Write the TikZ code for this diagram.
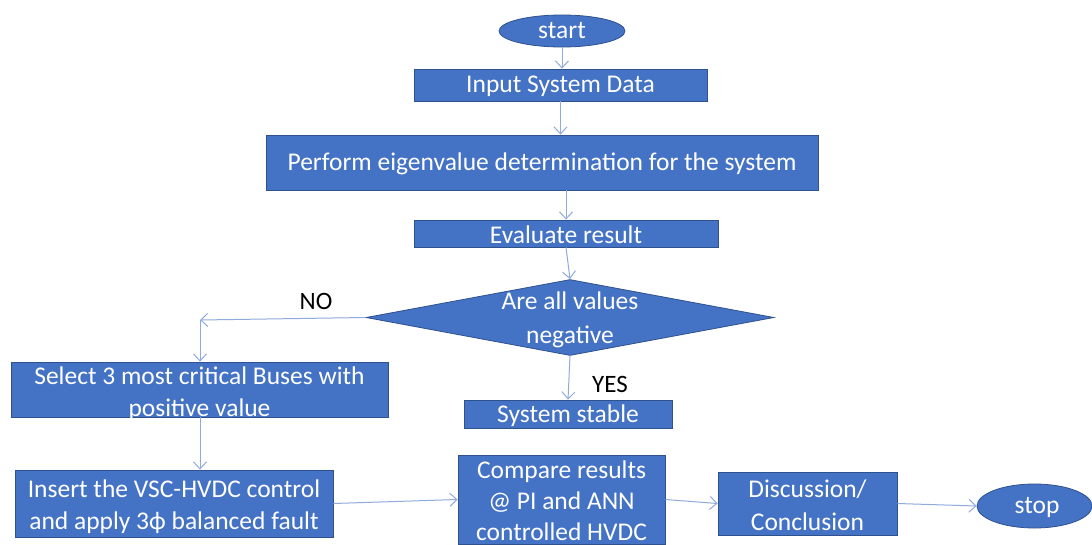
\documentclass[tikz,border=0pt]{standalone}
\usepackage{fontspec}
\setmainfont{Carlito}
\usetikzlibrary{shapes.geometric,arrows.meta}
\definecolor{boxblue}{HTML}{4472C4}
\definecolor{boxedge}{HTML}{2F528F}
\definecolor{linkblue}{HTML}{8FAADC}
\tikzset{
  box/.style={rectangle, fill=boxblue, draw=boxedge, line width=0.8pt,
    inner sep=0pt, text=white, align=center,
    font=\fontsize{25.5}{32}\selectfont},
  term/.style={box, ellipse},
  decision/.style={box, diamond},
  boxtext/.style={text=white, align=center, inner sep=0pt,
    font=\fontsize{25.5}{32}\selectfont},
  tag/.style={text=black, inner sep=0pt, font=\fontsize{25}{28}\selectfont},
  link/.style={draw=linkblue, line width=1pt,
    -{Straight Barb[length=7pt,width=13pt,line width=1pt]}},
}
\begin{document}
\begin{tikzpicture}[x=1pt,y=-1pt]
  \useasboundingbox[fill=white] (0,0) rectangle (1092,544);

  % main column
  \node[term, minimum width=126pt, minimum height=32pt] (start) at (562,31) {start};
  \node[box, minimum width=293pt, minimum height=32pt] (input) at (560.5,85) {};
  \node[boxtext] at (560.5,86.5) {Input System Data};
  \node[box, minimum width=552pt, minimum height=55pt] (perform) at (542,162.5) {};
  \node[boxtext] at (542,164) {Perform eigenvalue determination for the system};
  \node[box, minimum width=304pt, minimum height=27pt] (evaluate) at (566,233.5) {};
  \node[boxtext] at (566,235) {Evaluate result};
  \node[decision, minimum width=408pt, minimum height=76pt] (check) at (570,317.5) {};
  \node[boxtext, font=\fontsize{25.5}{34}\selectfont] at (570,319.5) {Are all values\\negative};
  \node[box, minimum width=208pt, minimum height=28pt] (stable) at (568,414) {};
  \node[boxtext] at (568,415.5) {System stable};

  % NO branch
  \coordinate (turn) at (200,320);
  \node[box, minimum width=377pt, minimum height=55pt] (select) at (199.5,389.5) {};
  \node[boxtext] at (199.5,394) {Select 3 most critical Buses with\\positive value};
  \node[box, minimum width=318pt, minimum height=67pt] (insert) at (174,503.5) {};
  \node[boxtext] at (174,507) {Insert the VSC-HVDC control\\and apply 3ϕ balanced fault};
  \node[box, minimum width=207pt, minimum height=89pt] (compare) at (561.5,499.5) {};
  \node[boxtext, font=\fontsize{25.5}{31}\selectfont] at (561.5,500.5)
    {Compare results\\@ PI and ANN\\controlled HVDC};
  \node[box, minimum width=179pt, minimum height=63pt] (discuss) at (807.5,503.5) {};
  \node[boxtext, font=\fontsize{25.5}{33}\selectfont] at (807.5,505.5) {Discussion/\\Conclusion};
  \node[term, minimum width=115pt, minimum height=44pt] (stop) at (1034.5,506) {};
  \node[boxtext] at (1037,507.5) {stop};

  % branch labels
  \node[tag] at (316,301) {NO};
  \node[tag] at (610,384) {YES};

  % connectors
  \draw[link] (start.south) -- (start.south |- input.north);
  \draw[link] (input.south) -- (input.south |- perform.north);
  \draw[link] (perform.south -| evaluate.north) -- (evaluate.north);
  \draw[link] (evaluate.south) -- (check.north);
  \draw[link] (check.south) -- (stable.north);
  \draw[link] (check.west) -- (turn);
  \draw[link] (turn) -- (turn |- select.north);
  \draw[link] (select.south -| turn) -- (turn |- insert.north);
  \draw[link] (insert.east) -- (compare.west);
  \draw[link] (compare.east) -- (discuss.west);
  \draw[link] (discuss.east) -- (stop.west);
\end{tikzpicture}
\end{document}
